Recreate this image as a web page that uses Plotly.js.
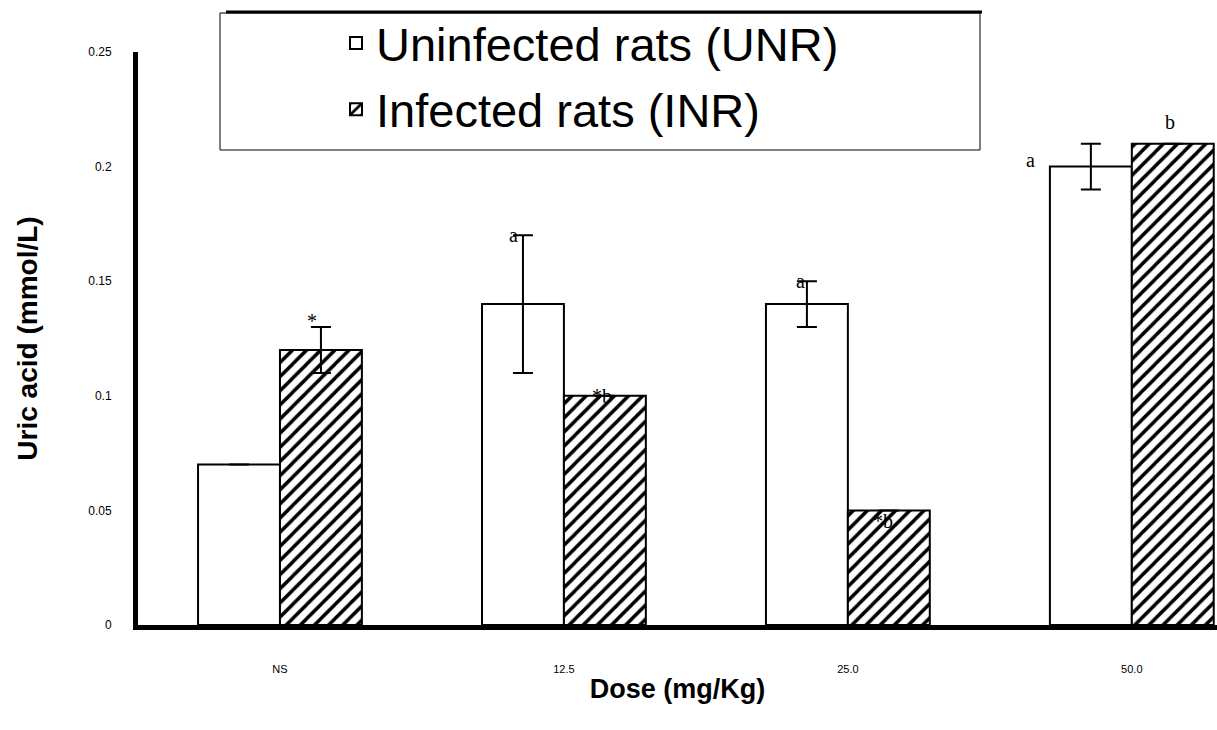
<!DOCTYPE html>
<html>
<head>
<meta charset="utf-8">
<script src="https://cdn.plot.ly/plotly-3.0.1.min.js"></script>
<style>html,body{margin:0;padding:0;background:#fff;}#chart{width:1217px;height:730px;}</style>
</head>
<body>
<div id="chart"></div>
<script>
// ---- data ----
const categories = ['NS', '12.5', '25.0', '50.0'];
const uninfected = [0.07, 0.14, 0.14, 0.20];
const uninfectedErr = [null, 0.03, 0.01, 0.01];
const infected = [0.12, 0.10, 0.05, 0.21];
const infectedErr = [0.01, null, null, null];
const uninfectedLabels = ['', 'a', 'a', 'a'];
const infectedLabels = ['*', '*b', '*b', 'b'];
const yTicks = [0, 0.05, 0.1, 0.15, 0.2, 0.25];
const yTickText = ['0', '0.05', '0.1', '0.15', '0.2', '0.25'];

// ---- layout geometry ----
const W = 1217, H = 730;
const M = {l: 138, r: 0, t: 52, b: 105};
const plotW = W - M.l - M.r, plotH = H - M.t - M.b;
const px2x = p => (p - M.l) / plotW;
const px2y = p => (H - M.b - p) / plotH;

const sans = 'Liberation Sans, Arial, sans-serif';
const serif = 'Liberation Serif, Times New Roman, serif';

const traces = [
  {
    type: 'bar', name: 'Uninfected rats (UNR)', x: categories, y: uninfected,
    legendgroup: 'u',
    marker: {color: '#ffffff', line: {color: '#000', width: 2}},
    error_y: {type: 'data', array: uninfectedErr, visible: true, color: '#000', thickness: 2, width: 10},
    hoverinfo: 'skip'
  },
  {
    type: 'bar', name: 'Infected rats (INR)', x: categories, y: infected,
    legendgroup: 'i',
    marker: {color: '#ffffff', line: {color: '#000', width: 2},
      pattern: {shape: '/', fgcolor: '#000', bgcolor: '#fff', size: 10, solidity: 0.35, fillmode: 'replace'}},
    error_y: {type: 'data', array: infectedErr, visible: true, color: '#000', thickness: 2, width: 10},
    hoverinfo: 'skip'
  }
];

// letter annotations above bars (offsets are styling only)
const barHalf = 0.145;
const uOff = [[0,0],[-9,0],[-6,0],[-60,-16]];
const iOff = [[-9,6],[-3,0],[-6,-11],[-3,22]];
const annotations = [];
categories.forEach((c, i) => {
  if (uninfectedLabels[i]) {
    annotations.push({x: i - barHalf, y: uninfected[i] + (uninfectedErr[i] || 0), xref: 'x', yref: 'y',
      text: uninfectedLabels[i], showarrow: false, xshift: uOff[i][0], yshift: uOff[i][1],
      font: {family: serif, size: 20, color: '#000'}});
  }
  if (infectedLabels[i]) {
    annotations.push({x: i + barHalf, y: infected[i] + (infectedErr[i] || 0), xref: 'x', yref: 'y',
      text: infectedLabels[i], showarrow: false, xshift: iOff[i][0], yshift: iOff[i][1],
      font: {family: serif, size: 20, color: '#000'}});
  }
});

const layout = {
  width: W, height: H,
  margin: M,
  paper_bgcolor: '#fff', plot_bgcolor: '#fff',
  barmode: 'group', bargap: 0.423, bargroupgap: 0,
  showlegend: true,
  legend: {
    x: px2x(336), y: px2y(6), xanchor: 'left', yanchor: 'top',
    bgcolor: 'rgba(0,0,0,0)', borderwidth: 0,
    font: {family: sans, size: 47, color: '#000'},
    traceorder: 'grouped', tracegroupgap: 2, itemsizing: 'constant'
  },
  xaxis: {
    type: 'category', range: [-0.5, 3.3], fixedrange: true,
    showline: true, linecolor: '#000', linewidth: 5,
    showgrid: false, zeroline: false, ticks: '',
    ticklabelstandoff: 30,
    tickfont: {family: sans, size: 11, color: '#000'},
    title: {text: 'Dose (mg/Kg)', font: {family: sans, size: 27, color: '#000', weight: 'bold'}, standoff: 6}
  },
  yaxis: {
    range: [0, 0.25], fixedrange: true,
    tickvals: yTicks, ticktext: yTickText,
    showline: true, linecolor: '#000', linewidth: 5,
    showgrid: false, zeroline: false, ticks: '',
    ticklabelstandoff: 19,
    tickfont: {family: sans, size: 12, color: '#000'},
    title: {text: 'Uric acid (mmol/L)', font: {family: sans, size: 28, color: '#000', weight: 'bold'}, standoff: 44}
  },
  shapes: [
    {type: 'rect', xref: 'paper', yref: 'paper', x0: px2x(220), x1: px2x(980), y0: px2y(150), y1: px2y(13),
      line: {color: '#000', width: 1}, fillcolor: 'rgba(0,0,0,0)', layer: 'above'},
    {type: 'line', xref: 'paper', yref: 'paper', x0: px2x(226), x1: px2x(982), y0: px2y(12), y1: px2y(12),
      line: {color: '#000', width: 3}, layer: 'above'}
  ],
  annotations: annotations
};

Plotly.newPlot('chart', traces, layout, {displayModeBar: false, staticPlot: true});
</script>
</body>
</html>
